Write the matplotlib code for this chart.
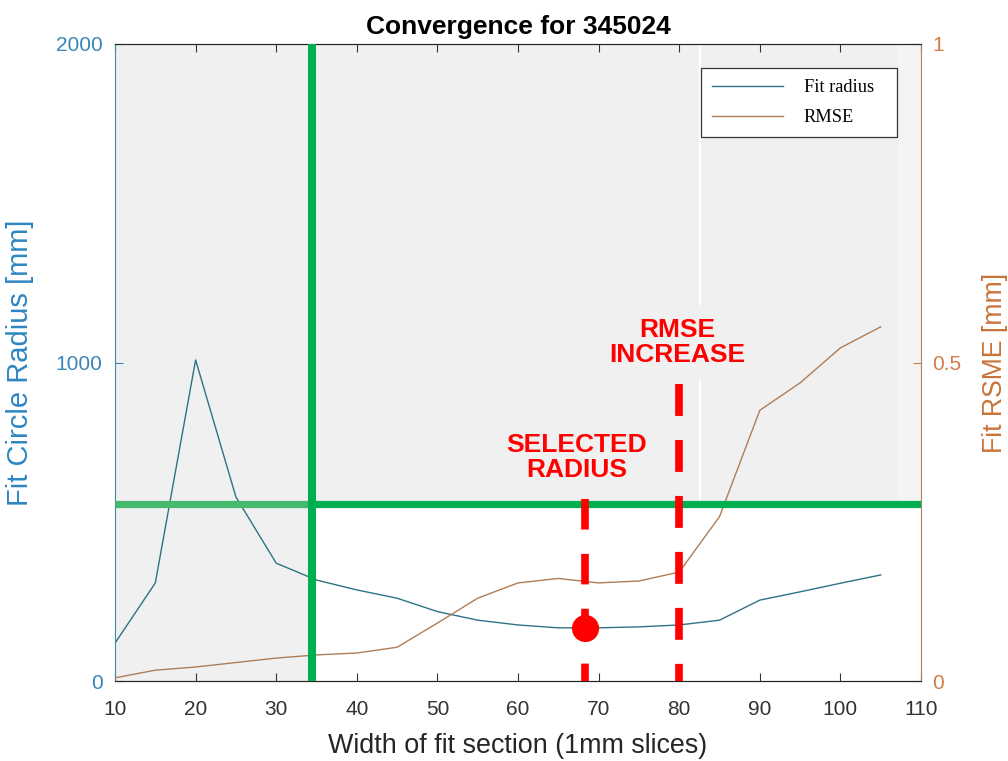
import matplotlib
matplotlib.use('Agg')
import matplotlib.pyplot as plt
from matplotlib.patches import Rectangle

plt.rcParams['font.family'] = ['Liberation Sans', 'DejaVu Sans']
plt.rcParams['lines.scale_dashes'] = False

# fit results per slice width
width = [10, 15, 20, 25, 30, 35, 40, 45, 50, 55, 60, 65, 70, 75, 80, 85, 90, 95, 100, 105]
fit_radius = [119, 308, 1008, 578, 370, 317, 286, 260, 218, 191,
              176, 167, 167, 170, 176, 191, 254, 280, 307, 333]
rmse = [0.005, 0.017, 0.022, 0.029, 0.036, 0.041, 0.044, 0.053, 0.091, 0.130,
        0.154, 0.161, 0.154, 0.157, 0.171, 0.258, 0.425, 0.468, 0.523, 0.556]

# markers added on top of the plot
cutoff_width = 34.5
cutoff_radius = 555
selected_width = 68.3
selected_radius = 167
rmse_increase_width = 80

radius_color = '#2d7386'
rmse_color = '#b07d55'
left_color = '#3a86b8'
right_color = '#cf7c48'
green = '#00b050'
red = '#ff0000'
grey = '#f0f0f0'

fig = plt.figure(figsize=(10.08, 7.61), dpi=100)
ax = fig.add_axes([0.1141, 0.1051, 0.7996, 0.8371])
ax2 = ax.twinx()

ax.set_xlim(10, 110)
ax.set_ylim(0, 2000)
ax2.set_ylim(0, 1)

# shaded area outside the accepted region
ax.add_patch(Rectangle((10, 0), cutoff_width - 10, 2000, color=grey, lw=0, zorder=0))
ax.add_patch(Rectangle((cutoff_width, cutoff_radius), 110 - cutoff_width, 2000 - cutoff_radius,
                       color=grey, lw=0, zorder=0))
ax.add_patch(Rectangle((107.2, cutoff_radius), 2.8, 2000 - cutoff_radius,
                       color='#f4f4f4', lw=0, zorder=0))
ax.plot([82.6, 82.6], [cutoff_radius, 2000], color='white', lw=1.6, zorder=0.5)

l1, = ax.plot(width, fit_radius, color=radius_color, lw=1.0, label='Fit radius')
l2, = ax2.plot(width, rmse, color=rmse_color, lw=1.0, label='RMSE')

# cutoff lines
ax2.plot([10, cutoff_width], [cutoff_radius, cutoff_radius], transform=ax.transData,
         color='#45b96e', lw=5.2, solid_capstyle='butt', zorder=5)
ax2.plot([cutoff_width, 110], [cutoff_radius, cutoff_radius], transform=ax.transData,
         color=green, lw=5.2, solid_capstyle='butt', zorder=5)
ax2.plot([cutoff_width, cutoff_width], [0, 2000], transform=ax.transData,
         color=green, lw=5.8, solid_capstyle='butt', zorder=6)

# selected radius and rmse increase markers
ax2.plot([selected_width, selected_width], [571, 0], transform=ax.transData,
         color=red, lw=5.5, dashes=(22, 17.5), zorder=7)
ax2.plot([rmse_increase_width, rmse_increase_width], [932, 0], transform=ax.transData,
         color=red, lw=5.5, dashes=(23, 17.3), zorder=7)
ax2.plot([selected_width], [selected_radius], transform=ax.transData, marker='o',
         markersize=18.5, color=red, zorder=8)

ax2.text(67.25, 703, 'SELECTED\nRADIUS', transform=ax.transData, color=red,
         fontsize=19, fontweight='bold', ha='center', va='center', linespacing=1.05, zorder=8)
ax2.text(79.8, 1063, 'RMSE\nINCREASE', transform=ax.transData, color=red,
         fontsize=19, fontweight='bold', ha='center', va='center', linespacing=1.05, zorder=8,
         bbox=dict(boxstyle='square,pad=0.5', fc=grey, ec='none'))

ax.set_title('Convergence for 345024', fontsize=19, fontweight='bold', pad=7.5)

ax.set_xticks(range(10, 111, 10))
ax.set_yticks([0, 1000, 2000])
ax2.set_yticks([0, 0.5, 1])
ax2.set_yticklabels(['0', '0.5', '1'])

ax.tick_params(axis='x', direction='in', top=True, length=6, labelsize=15,
               colors='#333333', pad=14)
ax.tick_params(axis='y', direction='in', length=6, labelsize=15,
               colors=left_color, pad=9)
ax2.tick_params(axis='y', direction='in', length=6, labelsize=15,
                colors=right_color, pad=8)

ax.set_xlabel('Width of fit section (1mm slices)', fontsize=19.4, color='#262626')
ax.set_ylabel('Fit Circle Radius [mm]', fontsize=21, color='#2e86c1')
ax2.set_ylabel('Fit RSME [mm]', fontsize=19.2, color='#c8743a')
ax.xaxis.set_label_coords(0.5, -0.082)
ax.yaxis.set_label_coords(-0.1, 0.5)
ax2.yaxis.set_label_coords(1.076, 0.5)

for a in (ax, ax2):
    a.spines['top'].set_color('#262626')
    a.spines['bottom'].set_color('#262626')
ax.spines['left'].set_color('#3f8f9f')
ax2.spines['left'].set_visible(False)
ax2.spines['right'].set_color('#a8845a')
ax.spines['right'].set_visible(False)

leg = ax2.legend(handles=[l1, l2], loc='upper left', mode='expand',
                 bbox_to_anchor=(0.727, 0.854, 0.243, 0.108), borderaxespad=0,
                 prop={'family': 'Liberation Serif', 'size': 13.2},
                 handlelength=3.9, handletextpad=1.1, labelspacing=0.72,
                 borderpad=0.6, fancybox=False, framealpha=1, edgecolor='#333333')
leg.get_frame().set_linewidth(0.9)
leg.set_zorder(10)

fig.savefig('out.png', dpi=100)
